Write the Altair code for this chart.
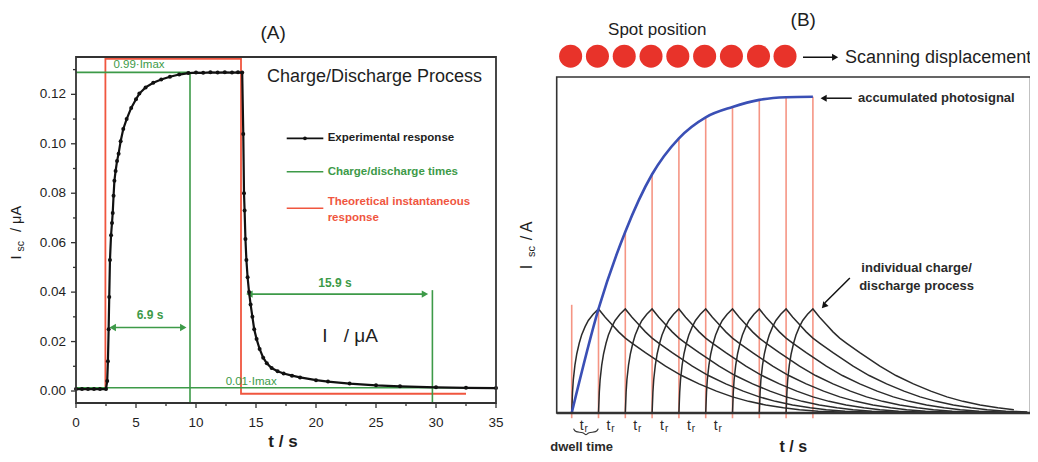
import altair as alt
import pandas as pd

FONT = "Liberation Sans"
GREEN = "#3d9a48"
RED = "#f0563f"
RED_LIGHT = "#f3826f"
BLUE = "#3a4fb5"
SPOT = "#e8332a"
INK = "#1e1e1e"
FRAME = "#333333"

# ---------------- Panel A data ----------------
exp_t = [0.0, 0.5, 1.0, 1.5, 2.0, 2.5, 2.6, 2.66, 2.72, 2.77, 2.83, 2.92, 3.0, 3.06,
         3.13, 3.2, 3.3, 3.42, 3.55, 3.72, 3.94, 4.22, 4.6, 5.0, 5.28, 5.8, 6.44, 7.1,
         7.83, 8.6, 9.36, 10.0, 10.6, 11.2, 11.8, 12.4, 13.0, 13.5, 13.85,
         13.94, 14.0, 14.05, 14.12, 14.2, 14.3, 14.42, 14.55, 14.7, 14.85, 15.05, 15.3,
         15.6, 15.9, 16.3, 16.8, 17.3, 18.0, 18.67, 20.0, 21.0, 22.8, 25.0, 27.0, 30.0,
         32.5, 35.0]
exp_i = [0.0008, 0.0008, 0.0008, 0.0008, 0.0008, 0.0008, 0.004, 0.012, 0.025, 0.038,
         0.053, 0.063, 0.068, 0.072, 0.079, 0.085, 0.089, 0.093, 0.096, 0.101, 0.106,
         0.110, 0.1145, 0.118, 0.1203, 0.1228, 0.1247, 0.126, 0.1271, 0.128, 0.1286,
         0.1288, 0.1287, 0.1289, 0.1288, 0.1289, 0.1288, 0.1289, 0.1288,
         0.104, 0.080, 0.073, 0.0615, 0.053, 0.046, 0.040, 0.035, 0.030, 0.025, 0.021,
         0.017, 0.0135, 0.0112, 0.0093, 0.008, 0.0071, 0.0062, 0.0055, 0.0044, 0.0038,
         0.003, 0.0023, 0.0019, 0.0015, 0.0013, 0.0012]

theo_t = [2.45, 2.45, 13.75, 13.75, 32.5]
theo_i = [0.0008, 0.1344, 0.1344, -0.0011, -0.0011]

imax99 = 0.1289
imax01 = 0.0013
t_charge_on, t_charge_tip, t_charge_end = 2.78, 9.22, 9.5
t_dis_on, t_dis_tip, t_dis_end = 14.17, 29.36, 29.7
arrow1_y, arrow2_y = 0.0257, 0.0392
dis_line_top = 0.0408

A_xdom = [0, 35]
A_ydom = [-0.00485, 0.1351]
A_xmajor = [0, 5, 10, 15, 20, 25, 30, 35]
A_xminor = [2.5, 7.5, 12.5, 17.5, 22.5, 27.5, 32.5]
A_ymajor = [0.0, 0.02, 0.04, 0.06, 0.08, 0.10, 0.12]
A_yminor = [0.01, 0.03, 0.05, 0.07, 0.09, 0.11, 0.13]

# ---------------- Panel B data ----------------
b_starts = [0, 1, 2, 3, 4, 5, 6, 7, 8]
rise_dt = [0, 0.03, 0.06, 0.12, 0.19, 0.28, 0.37, 0.5, 0.62, 0.8, 1.0]
rise_v = [0, 0.2, 0.32, 0.46, 0.57, 0.67, 0.75, 0.83, 0.89, 0.95, 1.0]
decay_dt = [0.25, 0.5, 0.75, 1.0, 1.26, 1.75, 2.5, 3.1, 3.75, 4.4, 5.0, 5.6, 6.24,
            6.9, 7.5, 8.2, 9.0, 10.0, 12.0, 14.0, 16.2]
decay_v = [0.92, 0.85, 0.78, 0.72, 0.67, 0.58, 0.45, 0.36, 0.28, 0.21, 0.155, 0.112,
           0.077, 0.05, 0.032, 0.018, 0.01, 0.005, 0.0015, 0.0005, 0.0]
acc_t = [0, 1, 2, 3, 4, 5, 6, 7, 8, 9]
acc_v = [0, 1.0, 1.743, 2.295, 2.641, 2.843, 2.942, 3.01, 3.035, 3.04]
red_t = [0, 1, 2, 3, 4, 5, 6, 7, 8, 9]
red_top = [1.04, 1.0, 1.743, 2.295, 2.641, 2.843, 2.942, 3.01, 3.035, 3.04]
red_bottom = -0.05
spot_x = [-0.04, 0.96, 1.96, 2.96, 3.96, 4.96, 5.96, 6.97, 7.96]
spot_y = 3.43
tr_k = [0, 1, 2, 3, 4, 5]

B_xdom = [-0.56, 17.12]
B_ydom = [0, 3.23]

# ---------------- scales ----------------
A_xrange, A_yrange = [68, 488], [395, 49]
B_xrange, B_yrange = [548.7, 1022.5], [405, 69]
xA = alt.Scale(domain=A_xdom, range=A_xrange, nice=False, zero=False)
yA = alt.Scale(domain=A_ydom, range=A_yrange, nice=False, zero=False)
xB = alt.Scale(domain=B_xdom, range=B_xrange, nice=False, zero=False)
yB = alt.Scale(domain=B_ydom, range=B_yrange, nice=False, zero=False)

# pixel -> data-unit factors (for tick lengths)
ux = (A_xdom[1] - A_xdom[0]) / (A_xrange[1] - A_xrange[0])
uy = (A_ydom[1] - A_ydom[0]) / (A_yrange[0] - A_yrange[1])


def XY(sx, sy, x="x", y="y"):
    return dict(x=alt.X(f"{x}:Q", scale=sx, axis=None),
                y=alt.Y(f"{y}:Q", scale=sy, axis=None))


def texts(rows, sx, sy, **kw):
    df = pd.DataFrame(rows, columns=["x", "y", "text"])
    base = dict(font=FONT, align="center", baseline="middle", color=INK)
    base.update(kw)
    return alt.Chart(df).mark_text(**base).encode(**XY(sx, sy), text="text:N")


def segments(rows, sx, sy, **kw):
    df = pd.DataFrame(rows, columns=["x", "y", "x2", "y2", "c"])
    return alt.Chart(df).mark_rule(**kw).encode(
        **XY(sx, sy), x2="x2:Q", y2="y2:Q", color=alt.Color("c:N", scale=None))


def heads(rows, sx, sy, size=45, angle=0):
    df = pd.DataFrame(rows, columns=["x", "y", "shape", "c"])
    return alt.Chart(df).mark_point(filled=True, size=size, opacity=1, angle=angle).encode(
        **XY(sx, sy), shape=alt.Shape("shape:N", scale=None),
        color=alt.Color("c:N", scale=None))


# ---------------- Panel A ----------------
frameA = alt.Chart(pd.DataFrame({"x": [A_xdom[0]], "x2": [A_xdom[1]],
                                 "y": [A_ydom[0]], "y2": [A_ydom[1]]})).mark_rect(
    fill="transparent", stroke=FRAME, strokeWidth=1.8).encode(
    **XY(xA, yA), x2="x2:Q", y2="y2:Q")

# axis ticks (outward), drawn from the tick lists
tick_rows = []
for v in A_xmajor:
    tick_rows.append((v, A_ydom[0], v, A_ydom[0] - 5 * uy, FRAME))
for v in A_xminor:
    tick_rows.append((v, A_ydom[0], v, A_ydom[0] - 3 * uy, FRAME))
for v in A_ymajor:
    tick_rows.append((A_xdom[0], v, A_xdom[0] - 5 * ux, v, FRAME))
for v in A_yminor:
    tick_rows.append((A_xdom[0], v, A_xdom[0] - 3 * ux, v, FRAME))
ticksA = segments(tick_rows, xA, yA, strokeWidth=1.3)

xlabels = texts([(v, A_ydom[0], f"{v:d}") for v in A_xmajor], xA, yA,
                fontSize=13.5, dy=20)
ylabels = texts([(A_xdom[0], v, f"{v:.2f}") for v in A_ymajor], xA, yA,
                fontSize=13.5, align="right", dx=-10)

theo = alt.Chart(pd.DataFrame({"x": theo_t, "y": theo_i, "o": range(len(theo_t))})).mark_line(
    color=RED, strokeWidth=1.8).encode(**XY(xA, yA), order="o:Q")

green = segments([
    (A_xdom[0], imax99, t_charge_end, imax99, GREEN),
    (t_charge_end, imax99, t_charge_end, A_ydom[0], GREEN),
    (A_xdom[0], imax01, A_xdom[1], imax01, GREEN),
    (t_dis_end, dis_line_top, t_dis_end, A_ydom[0], GREEN),
    (t_charge_on + 0.2, arrow1_y, t_charge_tip - 0.2, arrow1_y, GREEN),
    (t_dis_on + 0.2, arrow2_y, t_dis_tip - 0.2, arrow2_y, GREEN),
], xA, yA, strokeWidth=1.6)

green_heads = heads([
    (t_charge_on + 0.28, arrow1_y, "triangle-left", GREEN),
    (t_charge_tip - 0.28, arrow1_y, "triangle-right", GREEN),
    (t_dis_on + 0.28, arrow2_y, "triangle-left", GREEN),
    (t_dis_tip - 0.28, arrow2_y, "triangle-right", GREEN),
], xA, yA, size=55)

exp_df = pd.DataFrame({"x": exp_t, "y": exp_i})
exp_line = alt.Chart(exp_df).mark_line(color="#111111", strokeWidth=2.2).encode(**XY(xA, yA))
exp_pts = alt.Chart(exp_df).mark_circle(color="#111111", size=16, opacity=1).encode(**XY(xA, yA))

legend_lines = segments([
    (17.56, 0.1022, 20.61, 0.1022, "#111111"),
    (17.56, 0.0887, 20.61, 0.0887, GREEN),
    (17.56, 0.0739, 20.61, 0.0739, RED),
], xA, yA, strokeWidth=1.6)
legend_dot = alt.Chart(pd.DataFrame({"x": [19.08], "y": [0.1022]})).mark_circle(
    color="#111111", size=14, opacity=1).encode(**XY(xA, yA))

textA_main = texts([(16.42, 0.1447, "(A)")], xA, yA, fontSize=19)
textA_title = texts([(24.87, 0.127, "Charge/Discharge Process")], xA, yA, fontSize=18)
textA_unit = texts([(20.75, 0.0222, "I"), (23.73, 0.0222, "/ μA")], xA, yA, fontSize=19)
textA_xt = texts([(17.25, -0.0206, "t / s")], xA, yA, fontSize=17, fontWeight="bold")
textA_green_small = texts([(5.25, 0.1319, "0.99·Imax"), (14.6, 0.0037, "0.01·Imax")],
                          xA, yA, fontSize=11.5, color=GREEN)
textA_green_bold = texts([(6.17, 0.0307, "6.9 s"), (21.58, 0.0436, "15.9 s")],
                         xA, yA, fontSize=12, fontWeight="bold", color=GREEN)
textA_leg_black = texts([(20.97, 0.1022, "Experimental response")], xA, yA,
                        fontSize=11.5, fontWeight="bold", align="left")
textA_leg_green = texts([(20.97, 0.0887, "Charge/discharge times")], xA, yA,
                        fontSize=11.5, fontWeight="bold", align="left", color=GREEN)
textA_leg_red = texts([(20.97, 0.0766, "Theoretical instantaneous"), (20.97, 0.0698, "response")],
                      xA, yA, fontSize=11.5, fontWeight="bold", align="left", color=RED)
textA_ytitle_big = texts([(-4.9, 0.054, "I"), (-4.9, 0.0696, "/ μA")], xA, yA,
                         fontSize=14.5, angle=270)
textA_ytitle_sub = texts([(-4.62, 0.0586, "sc")], xA, yA, fontSize=10.5, angle=270)

panelA = alt.layer(theo, green, green_heads, exp_line, exp_pts, frameA, ticksA, xlabels, ylabels,
                   legend_lines, legend_dot, textA_main, textA_title, textA_unit, textA_xt,
                   textA_green_small, textA_green_bold, textA_leg_black, textA_leg_green,
                   textA_leg_red, textA_ytitle_big, textA_ytitle_sub)

# ---------------- Panel B ----------------
red_df = pd.DataFrame({"x": red_t, "y": [red_bottom] * len(red_t), "y2": red_top})
red_rules = alt.Chart(red_df).mark_rule(color=RED_LIGHT, strokeWidth=1.6, opacity=0.85).encode(
    **XY(xB, yB), y2="y2:Q")

rows = []
o = 0
for k, s in enumerate(b_starts):
    for dt, v in zip(rise_dt, rise_v):
        rows.append((k, s + dt, v, o)); o += 1
    for dt, v in zip(decay_dt, decay_v):
        rows.append((k, s + 1 + dt, v, o)); o += 1
curves_df = pd.DataFrame(rows, columns=["k", "x", "y", "o"])
curves_df = curves_df[curves_df["x"] <= B_xdom[1]]
curves = alt.Chart(curves_df).mark_line(color="#2b2b2b", strokeWidth=1.5).encode(
    **XY(xB, yB), detail="k:N", order="o:Q")

acc = alt.Chart(pd.DataFrame({"x": acc_t, "y": acc_v})).mark_line(
    color=BLUE, strokeWidth=2.6, interpolate="monotone").encode(**XY(xB, yB))

frameB = alt.Chart(pd.DataFrame({"x": [B_xdom[0]], "x2": [B_xdom[1]],
                                 "y": [B_ydom[0]], "y2": [B_ydom[1]]})).mark_rect(
    fill="transparent", stroke=FRAME, strokeWidth=1.6).encode(
    **XY(xB, yB), x2="x2:Q", y2="y2:Q")
baseB = segments([(B_xdom[0], B_ydom[0], B_xdom[1], B_ydom[0], FRAME)], xB, yB, strokeWidth=2.6)

spots = alt.Chart(pd.DataFrame({"x": spot_x, "y": [spot_y] * len(spot_x)})).mark_circle(
    color=SPOT, size=530, opacity=1).encode(**XY(xB, yB))

arrowsB = segments([
    (8.63, 3.42, 9.75, 3.42, "#111111"),
    (9.5, 3.026, 10.45, 3.026, "#111111"),
    (10.38, 1.298, 9.45, 1.06, "#111111"),
], xB, yB, strokeWidth=1.5)
headsB = heads([
    (9.83, 3.42, "triangle-right", "#111111"),
    (9.4, 3.026, "triangle-left", "#111111"),
], xB, yB, size=50)
headB_diag = heads([(9.41, 1.03, "triangle-up", "#111111")], xB, yB, size=50, angle=222)

brace = alt.Chart(pd.DataFrame({
    "x": [0.07, 0.13, 0.45, 0.53, 0.61, 0.93, 0.99],
    "y": [-0.15, -0.185, -0.185, -0.22, -0.185, -0.185, -0.15]})).mark_line(
    color="#333333", strokeWidth=1.1, interpolate="basis").encode(**XY(xB, yB))

textB_main = texts([(8.64, 3.78, "(B)")], xB, yB, fontSize=19)
textB_spot = texts([(3.19, 3.68, "Spot position")], xB, yB, fontSize=17)
textB_scan = texts([(10.2, 3.41, "Scanning displacement")], xB, yB, fontSize=18, align="left")
textB_acc = texts([(10.68, 3.026, "accumulated photosignal")], xB, yB, fontSize=13,
                  fontWeight="bold", align="left", color="#2a2a2a")
textB_ind = texts([(12.87, 1.39, "individual charge/"), (12.87, 1.22, "discharge process")],
                  xB, yB, fontSize=13, fontWeight="bold", color="#2a2a2a")
textB_xt = texts([(8.27, -0.33, "t / s")], xB, yB, fontSize=16, fontWeight="bold")
textB_dwell = texts([(0.37, -0.33, "dwell time")], xB, yB, fontSize=13, fontWeight="bold",
                    color="#2a2a2a")
textB_t = texts([(k + 0.37, -0.122, "t") for k in tr_k], xB, yB, fontSize=14, color="#2a2a2a")
textB_r = texts([(k + 0.54, -0.15, "r") for k in tr_k], xB, yB, fontSize=10, color="#2a2a2a")
textB_ytitle_big = texts([(-1.65, 1.404, "I"), (-1.65, 1.75, "/ A")], xB, yB,
                         fontSize=16, angle=270)
textB_ytitle_sub = texts([(-1.5, 1.553, "sc")], xB, yB, fontSize=11, angle=270)

panelB = alt.layer(red_rules, curves, acc, frameB, baseB, spots, arrowsB, headsB, headB_diag,
                   brace, textB_main, textB_spot, textB_scan, textB_acc, textB_ind, textB_xt,
                   textB_dwell, textB_t, textB_r, textB_ytitle_big, textB_ytitle_sub)

chart = alt.layer(panelA, panelB).resolve_scale(x="independent", y="independent").properties(
    width=1022, height=446, autosize=alt.AutoSizeParams(type="none"), padding=0,
    background="white").configure_view(stroke=None)

chart.save("out.html", embed_options={"renderer": "svg", "actions": False})
